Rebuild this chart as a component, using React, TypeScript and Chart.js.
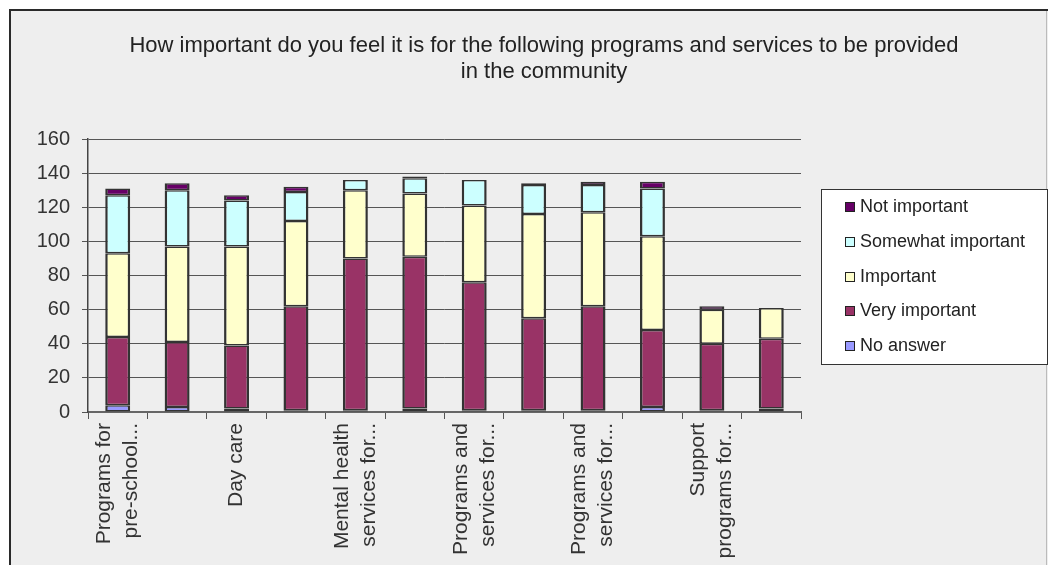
import React, { useEffect, useRef } from "react";
import { Chart, registerables } from "chart.js";

Chart.register(...registerables);

const FONT = "'Liberation Sans', Arial, Helvetica, sans-serif";

const categories: (string | string[])[] = [
  ["Programs for", "pre-school..."],
  "",
  "Day care",
  "",
  ["Mental health", "services for..."],
  "",
  ["Programs and", "services for..."],
  "",
  ["Programs and", "services for..."],
  "",
  ["Support", "programs for..."],
  "",
];

const noAnswer = [4, 3, 2, 1, 1, 2, 1, 1, 1, 3, 1, 2];
const veryImportant = [40, 38, 37, 61, 89, 89, 75, 54, 61, 45, 39, 41];
const important = [49, 56, 58, 50, 40, 37, 45, 61, 55, 55, 20, 18];
const somewhatImportant = [34, 33, 27, 17, 6, 9, 15, 17, 16, 28, 0, 0];
const notImportant = [4, 4, 3, 3, 0, 1, 0, 1, 2, 4, 2, 0];

const seriesNames = ["No answer", "Very important", "Important", "Somewhat important", "Not important"];
const seriesColors = ["#9999FF", "#993366", "#FFFFCC", "#CCFFFF", "#660066"];

const titleLines = [
  "How important do you feel it is for the following programs and services to be provided",
  "in the community",
];

const yMin = 0;
const yMax = 160;
const yStep = 20;

const W = 1048;
const H = 565;
const X_LINE_HEIGHT = 27;

const framePlugin = {
  id: "frame",
  beforeDraw(chart: any) {
    const ctx = chart.ctx;
    ctx.save();
    ctx.fillStyle = "#ffffff";
    ctx.fillRect(0, 0, W, H);
    ctx.fillStyle = "#eeeeee";
    ctx.fillRect(10, 10, W - 10, H - 10);
    ctx.strokeStyle = "#2a2a2a";
    ctx.lineWidth = 2;
    ctx.beginPath();
    ctx.moveTo(10, H);
    ctx.lineTo(10, 10);
    ctx.lineTo(W, 10);
    ctx.stroke();
    ctx.strokeStyle = "#bbbbbb";
    ctx.lineWidth = 1;
    ctx.beginPath();
    ctx.moveTo(1046.5, 11);
    ctx.lineTo(1046.5, H);
    ctx.stroke();
    ctx.restore();

    // center multi-line rotated category labels on their tick
    const xs = chart.scales.x;
    if (xs && xs.getLabelItems) {
      const items = xs.getLabelItems(chart.chartArea);
      items.forEach((it: any) => {
        if (Array.isArray(it.label) && it.label.length > 1 && !it._shifted) {
          it.options.translation[0] -= ((it.label.length - 1) * X_LINE_HEIGHT) / 2;
          it._shifted = true;
        }
      });
    }
  },
};

const titlePlugin = {
  id: "customTitle",
  afterDraw(chart: any) {
    const ctx = chart.ctx;
    ctx.save();
    ctx.fillStyle = "#222222";
    ctx.font = `22px ${FONT}`;
    ctx.textAlign = "center";
    ctx.textBaseline = "middle";
    titleLines.forEach((line, i) => {
      ctx.fillText(line, 544, 46 + i * 26);
    });
    ctx.restore();
  },
};

const legendPlugin = {
  id: "customLegend",
  afterDraw(chart: any) {
    const ctx = chart.ctx;
    ctx.save();
    ctx.fillStyle = "#ffffff";
    ctx.fillRect(821, 189, 226, 175);
    ctx.strokeStyle = "#333333";
    ctx.lineWidth = 1;
    ctx.strokeRect(821.5, 189.5, 226, 175);
    const ds = chart.data.datasets;
    const order = ds.map((_: any, i: number) => i).reverse();
    ctx.font = `18px ${FONT}`;
    ctx.textBaseline = "middle";
    ctx.textAlign = "left";
    order.forEach((idx: number, k: number) => {
      const y = 207 + k * 34.8;
      ctx.fillStyle = ds[idx].backgroundColor;
      ctx.fillRect(845, Math.round(y - 5), 10, 10);
      ctx.strokeStyle = "#222222";
      ctx.strokeRect(845.5, Math.round(y - 5) + 0.5, 9, 9);
      ctx.fillStyle = "#222222";
      ctx.fillText(ds[idx].label, 860, y);
    });
    ctx.restore();
  },
};

export default function App() {
  const canvasRef = useRef<HTMLCanvasElement | null>(null);

  useEffect(() => {
    if (!canvasRef.current) return;
    const seriesData = [noAnswer, veryImportant, important, somewhatImportant, notImportant];
    const chart = new Chart(canvasRef.current, {
      type: "bar",
      data: {
        labels: categories,
        datasets: seriesData.map((d, i) => ({
          label: seriesNames[i],
          data: d,
          backgroundColor: seriesColors[i],
          borderColor: "#333333",
          borderWidth: { top: 1.5, bottom: 1.5, left: 2.5, right: 2.5 },
          borderSkipped: false,
          barPercentage: 0.42,
          categoryPercentage: 1,
        })),
      },
      options: {
        responsive: false,
        animation: false,
        layout: { padding: { top: 139, right: 247, bottom: 0, left: 0 } },
        plugins: {
          legend: { display: false },
          title: { display: false },
          tooltip: { enabled: false },
        },
        scales: {
          x: {
            stacked: true,
            grid: {
              display: true,
              drawOnChartArea: false,
              drawTicks: true,
              tickLength: 7,
              color: "#555555",
              offset: true,
            },
            border: { display: true, color: "#666666", width: 2 },
            ticks: {
              autoSkip: false,
              maxRotation: 90,
              minRotation: 90,
              padding: 4,
              color: "#333333",
              font: { family: FONT, size: 21, lineHeight: X_LINE_HEIGHT / 21 },
            },
            afterFit(scale: any) {
              scale.height = H - 412;
            },
          },
          y: {
            stacked: true,
            min: yMin,
            max: yMax,
            ticks: {
              stepSize: yStep,
              padding: 12,
              color: "#333333",
              font: { family: FONT, size: 20 },
            },
            grid: { color: "#555555", lineWidth: 1, tickLength: 6 },
            border: { display: true, color: "#444444", width: 1.5 },
            afterFit(scale: any) {
              scale.width = 88;
            },
          },
        },
      },
      plugins: [framePlugin, titlePlugin, legendPlugin],
    });
    return () => chart.destroy();
  }, []);

  return (
    <div style={{ position: "fixed", left: 0, top: 0, width: W, height: H, overflow: "hidden", background: "#fff" }}>
      <canvas ref={canvasRef} width={W} height={H} style={{ display: "block", width: W, height: H }} />
    </div>
  );
}
